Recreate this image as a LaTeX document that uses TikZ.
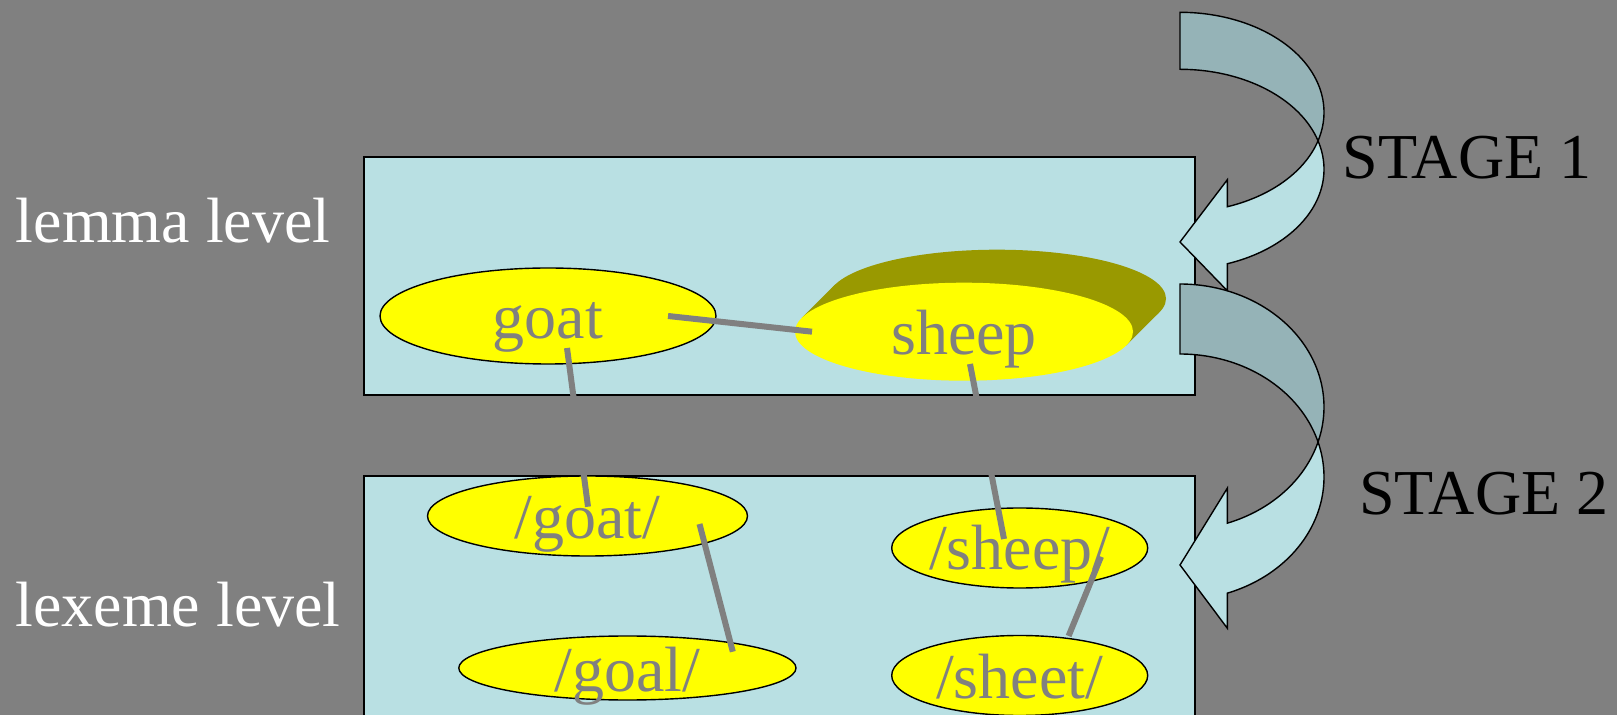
\documentclass[tikz,border=0pt]{standalone}
\usepackage{fontspec}
\setmainfont{Liberation Serif}
\usetikzlibrary{shapes.geometric}
\definecolor{bgc}{RGB}{128,128,128}
\definecolor{boxc}{RGB}{185,224,227}
\definecolor{darkband}{RGB}{149,179,183}
\definecolor{lightband}{RGB}{185,224,227}
\definecolor{shadowc}{RGB}{153,153,0}
\definecolor{wordfill}{RGB}{255,255,0}
\definecolor{wordc}{RGB}{128,128,128}
\definecolor{linec}{RGB}{128,128,128}
\definecolor{whitec}{RGB}{255,255,255}
\definecolor{blackc}{RGB}{0,0,0}
\begin{document}
\begin{tikzpicture}[x=0.5pt,y=-0.5pt,
  font=\fontsize{32}{36}\selectfont,
  levelbox/.style={draw=blackc, line width=0.7pt, fill=boxc},
  wordell/.style={ellipse, draw=blackc, line width=0.7pt, fill=wordfill, text=wordc,
    inner sep=-10pt, outer sep=0pt, text height=23pt, text depth=0pt},
  link/.style={draw=linec, line width=3pt},
  bandback/.style={fill=darkband, draw=blackc, line width=0.7pt},
  bandfront/.style={fill=lightband, draw=blackc, line width=0.7pt},
  sidelab/.style={anchor=base west, inner sep=0pt, text=whitec},
  stagelab/.style={anchor=base west, inner sep=0pt, text=blackc}
]
\useasboundingbox (0,0) rectangle (1617,715);
\clip (0,0) rectangle (1617,715);
\fill[bgc] (0,0) rectangle (1617,715);

% level boxes
\draw[levelbox] (364,157) rectangle (1195,395);
\draw[levelbox] (364,476) rectangle (1195,740);

% side labels
\node[sidelab] (lemmalab) at (15.5,243) {lemma level};
\node[sidelab] (lexemelab) at (15,626.7) {lexeme level};

% shadow of sheep
\fill[shadowc] (997,298.7) ellipse [x radius=169, y radius=49];
\fill[shadowc] (801.7,318.0) -- (834.7,285.0) -- (1159.3,312.4) -- (1126.3,345.4) -- cycle;

% word nodes
\node[wordell, minimum width=168pt, minimum height=48pt] (goat) at (548,316) {goat};
\node[wordell, draw=none, minimum width=169pt, minimum height=49pt] (sheep) at (964,331.7) {sheep};
\node[wordell, minimum width=160pt, minimum height=40pt] (pgoat) at (587.5,516) {/goat/};
\node[wordell, minimum width=128pt, minimum height=40pt, text height=22pt] (psheep) at (1019.7,548) {/sheep/};
\node[wordell, minimum width=168.6pt, minimum height=32pt] (pgoal) at (627.4,668) {/goal/};
\node[wordell, minimum width=128pt, minimum height=40pt, text height=22.5pt] (psheet) at (1019.7,675.5) {/sheet/};

% connectors
\draw[link] ([shift={(120,0)}]goat.center) -- ([shift={(-152,0)}]sheep.center);
\draw[link] ([shift={(19,32)}]goat.center) -- ([shift={(0.5,-9.3)}]pgoat.center);
\draw[link] ([shift={(6,32.3)}]sheep.center) -- ([shift={(-15.7,-9)}]psheep.center);
\draw[link] ([shift={(112,8)}]pgoat.center) -- ([shift={(105.4,-16.3)}]pgoal.center);
\draw[link] ([shift={(81.3,8.7)}]psheep.center) -- ([shift={(48.9,-39.5)}]psheet.center);

% curved arrow 1
\draw[bandback] plot[domain=-90:16.56, samples=60] ({1180+144*cos(\x)}, {112.3+100*sin(\x)})
  -- plot[domain=-16.56:-90, samples=60] ({1180+144*cos(\x)}, {169.3+100*sin(\x)}) -- cycle;
\draw[bandfront] plot[domain=-16.56:70.82, samples=60] ({1180+144*cos(\x)}, {169.3+100*sin(\x)})
  -- (1227.3,290.75) -- (1180,242) -- (1227.3,179.75)
  -- plot[domain=70.82:16.56, samples=60] ({1180+144*cos(\x)}, {112.3+100*sin(\x)}) -- cycle;

% curved arrow 2
\draw[bandback] plot[domain=-90:16.53, samples=60] ({1180+144*cos(\x)}, {407+123*sin(\x)})
  -- plot[domain=-16.53:-90, samples=60] ({1180+144*cos(\x)}, {477+123*sin(\x)}) -- cycle;
\draw[bandfront] plot[domain=-16.53:70.82, samples=60] ({1180+144*cos(\x)}, {477+123*sin(\x)})
  -- (1227.3,628.2) -- (1180,565) -- (1227.3,488.2)
  -- plot[domain=70.82:16.53, samples=60] ({1180+144*cos(\x)}, {407+123*sin(\x)}) -- cycle;

% stage labels
\node[stagelab] (stage1) at (1342,179) {STAGE 1};
\node[stagelab] (stage2) at (1359,515) {STAGE 2};
\end{tikzpicture}
\end{document}
